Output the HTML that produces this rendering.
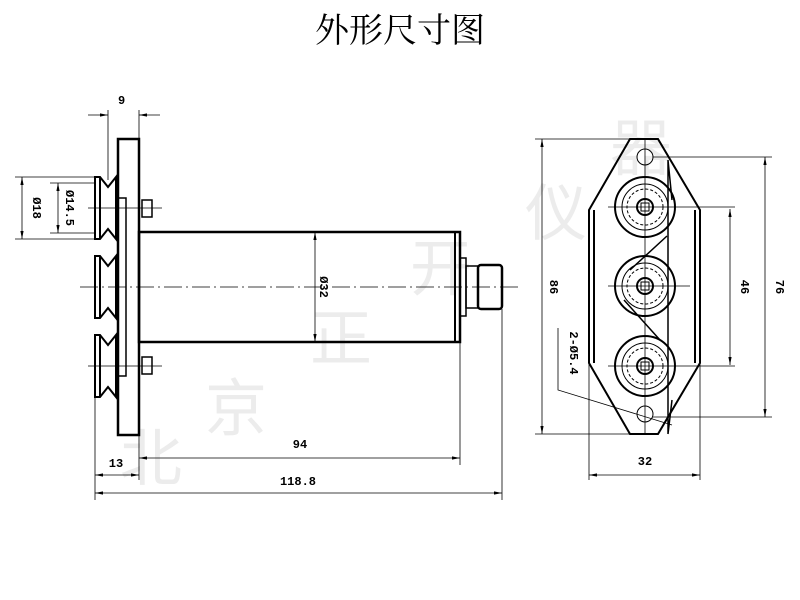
<!DOCTYPE html>
<html><head><meta charset="utf-8"><style>
body{margin:0;background:#fff;width:800px;height:600px;overflow:hidden}
svg{display:block}
text.d{font-family:"Liberation Mono",monospace;font-size:12px;font-weight:bold;fill:#000}
text.w{font-family:"Noto Sans CJK SC",sans-serif;font-size:62px;fill:#ececec}
</style></head><body>
<svg width="800" height="600" viewBox="0 0 800 600">
<defs><marker id="a" markerWidth="10" markerHeight="6" refX="10" refY="3" orient="auto-start-reverse"><path d="M0,1 L10,3 L0,5z" fill="#000"/></marker></defs>
<g>
<text class="w" x="120" y="480">北</text><text class="w" x="205" y="430">京</text><text class="w" x="310" y="360">正</text><text class="w" x="410" y="290">开</text><text class="w" x="525" y="235">仪</text><text class="w" x="610" y="170">器</text>
</g>
<text x="400" y="42" text-anchor="middle" style="font-family:'Liberation Serif','Noto Serif CJK SC',serif;font-size:34px">外形尺寸图</text>
<g fill="none" stroke="#000">
<rect x="118" y="139" width="21" height="296" stroke-width="2.5"/>
<rect x="139" y="232" width="321" height="110" stroke-width="2.5"/>
<rect x="455" y="232" width="5" height="110" stroke-width="2"/>
<rect x="460" y="258" width="6" height="58" stroke-width="1.5"/>
<rect x="466" y="266" width="12" height="42" stroke-width="1.5"/>
<rect x="478" y="265" width="24" height="44" rx="3" stroke-width="2.5"/>
<rect x="118" y="198" width="8" height="178" stroke-width="1.5"/>
<rect x="142" y="200" width="10" height="17" stroke-width="1.5"/>
<rect x="142" y="357" width="10" height="17" stroke-width="1.5"/>
<g stroke-width="2">
<path d="M95,177 h5 l8,10 l8,-10 v62 l-8,-10 l-8,10 h-5z"/>
<path d="M95,256 h5 l8,10 l8,-10 v62 l-8,-10 l-8,10 h-5z"/>
<path d="M95,335 h5 l8,10 l8,-10 v62 l-8,-10 l-8,10 h-5z"/>
<line x1="100" y1="177" x2="100" y2="239"/><line x1="100" y1="256" x2="100" y2="318"/><line x1="100" y1="335" x2="100" y2="397"/>
</g>
<line x1="80" y1="287" x2="520" y2="287" stroke-width="0.8" stroke-dasharray="18,4,2,4"/>
<line x1="88" y1="208" x2="162" y2="208" stroke-width="0.8"/>
<line x1="88" y1="366" x2="162" y2="366" stroke-width="0.8"/>
<g stroke-width="0.8">
<line x1="108" y1="110" x2="108" y2="180"/><line x1="139" y1="110" x2="139" y2="139"/>
<line x1="88" y1="115" x2="108" y2="115" marker-end="url(#a)"/><line x1="160" y1="115" x2="139" y2="115" marker-end="url(#a)"/>
<line x1="15" y1="177" x2="95" y2="177"/><line x1="15" y1="239" x2="95" y2="239"/>
<line x1="22" y1="177" x2="22" y2="239" marker-start="url(#a)" marker-end="url(#a)"/>
<line x1="50" y1="183" x2="95" y2="183"/><line x1="50" y1="233" x2="95" y2="233"/>
<line x1="58" y1="183" x2="58" y2="233" marker-start="url(#a)" marker-end="url(#a)"/>
<line x1="315" y1="232" x2="315" y2="342" marker-start="url(#a)" marker-end="url(#a)"/>
<line x1="95" y1="397" x2="95" y2="500"/><line x1="139" y1="435" x2="139" y2="480"/>
<line x1="460" y1="342" x2="460" y2="465"/><line x1="502" y1="309" x2="502" y2="500"/>
<line x1="139" y1="458" x2="460" y2="458" marker-start="url(#a)" marker-end="url(#a)"/>
<line x1="95" y1="475" x2="139" y2="475" marker-start="url(#a)" marker-end="url(#a)"/>
<line x1="95" y1="493" x2="502" y2="493" marker-start="url(#a)" marker-end="url(#a)"/>
</g>
<path d="M630,139 L658,139 L700,210 L700,363 L658,434 L630,434 L589,363 L589,210 Z" stroke-width="2"/>
<line x1="594" y1="210" x2="594" y2="363" stroke-width="2"/><line x1="695" y1="210" x2="695" y2="363" stroke-width="2"/>
<path d="M668,160 L668,434 M668,160 L672,200 M668,434 L672,400" stroke-width="1.5"/>
<path d="M667,236 L630,270 M624,300 L660,340" stroke-width="1.5"/>
<circle cx="645" cy="157" r="8"/><circle cx="645" cy="414" r="8"/>
<g>
<circle cx="645" cy="207" r="30" stroke-width="2"/><circle cx="645" cy="207" r="23"/><circle cx="645" cy="207" r="18" stroke-dasharray="3,2"/><circle cx="645" cy="207" r="8" stroke-width="2"/><rect x="641" y="203" width="8" height="8"/>
<circle cx="645" cy="286" r="30" stroke-width="2"/><circle cx="645" cy="286" r="23"/><circle cx="645" cy="286" r="18" stroke-dasharray="3,2"/><circle cx="645" cy="286" r="8" stroke-width="2"/><rect x="641" y="282" width="8" height="8"/>
<circle cx="645" cy="366" r="30" stroke-width="2"/><circle cx="645" cy="366" r="23"/><circle cx="645" cy="366" r="18" stroke-dasharray="3,2"/><circle cx="645" cy="366" r="8" stroke-width="2"/><rect x="641" y="362" width="8" height="8"/>
</g>
<g stroke-width="0.8">
<line x1="645" y1="140" x2="645" y2="435"/>
<line x1="608" y1="207" x2="735" y2="207"/><line x1="608" y1="286" x2="690" y2="286"/><line x1="608" y1="366" x2="735" y2="366"/>
<line x1="535" y1="139" x2="630" y2="139"/><line x1="535" y1="434" x2="630" y2="434"/>
<line x1="542" y1="139" x2="542" y2="434" marker-start="url(#a)" marker-end="url(#a)"/>
<line x1="730" y1="209" x2="730" y2="365" marker-start="url(#a)" marker-end="url(#a)"/>
<line x1="653" y1="157" x2="772" y2="157"/><line x1="653" y1="417" x2="772" y2="417"/>
<line x1="765" y1="157" x2="765" y2="417" marker-start="url(#a)" marker-end="url(#a)"/>
<line x1="589" y1="363" x2="589" y2="480"/><line x1="700" y1="363" x2="700" y2="480"/>
<line x1="589" y1="475" x2="700" y2="475" marker-start="url(#a)" marker-end="url(#a)"/>
<polyline points="558,328 558,390 672,425"/>
</g>
</g>
<text class="d" x="118" y="104">9</text>
<text class="d" transform="translate(33,208) rotate(90)" text-anchor="middle">Ø18</text>
<text class="d" transform="translate(66,208) rotate(90)" text-anchor="middle">Ø14.5</text>
<text class="d" transform="translate(320,287) rotate(90)" text-anchor="middle">Ø32</text>
<text class="d" x="300" y="448" text-anchor="middle">94</text>
<text class="d" x="116" y="467" text-anchor="middle">13</text>
<text class="d" x="298" y="485" text-anchor="middle">118.8</text>
<text class="d" transform="translate(550,287) rotate(90)" text-anchor="middle">86</text>
<text class="d" transform="translate(741,287) rotate(90)" text-anchor="middle">46</text>
<text class="d" transform="translate(776,287) rotate(90)" text-anchor="middle">76</text>
<text class="d" transform="translate(570,353) rotate(90)" text-anchor="middle">2-Ø5.4</text>
<text class="d" x="645" y="465" text-anchor="middle">32</text>
</svg>
</body></html>
